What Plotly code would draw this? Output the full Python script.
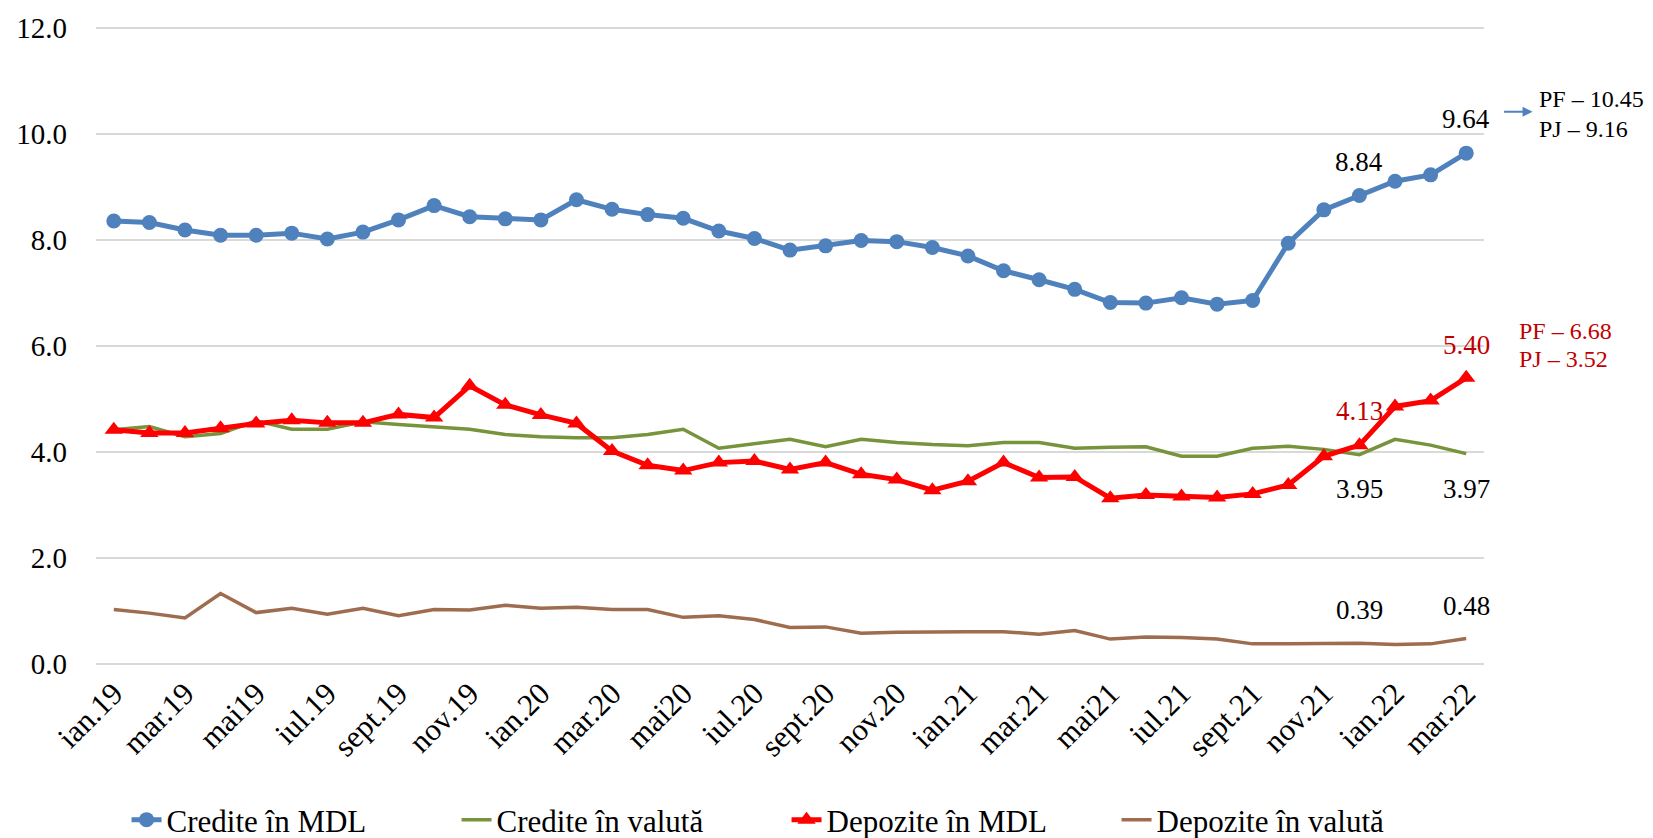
import plotly.graph_objects as go

months = [
    "ian.19", "feb.19", "mar.19", "apr.19", "mai19", "iun.19", "iul.19", "aug.19",
    "sept.19", "oct.19", "nov.19", "dec.19",
    "ian.20", "feb.20", "mar.20", "apr.20", "mai20", "iun.20", "iul.20", "aug.20",
    "sept.20", "oct.20", "nov.20", "dec.20",
    "ian.21", "feb.21", "mar.21", "apr.21", "mai21", "iun.21", "iul.21", "aug.21",
    "sept.21", "oct.21", "nov.21", "dec.21",
    "ian.22", "feb.22", "mar.22",
]

credite_mdl = [8.36, 8.33, 8.19, 8.09, 8.09, 8.13, 8.02, 8.15, 8.38, 8.65, 8.44, 8.40,
               8.38, 8.76, 8.58, 8.48, 8.41, 8.17, 8.03, 7.81, 7.89, 7.99, 7.97, 7.86,
               7.70, 7.42, 7.25, 7.07, 6.82, 6.81, 6.91, 6.79, 6.86, 7.94, 8.57, 8.84,
               9.11, 9.23, 9.64]
credite_valuta = [4.42, 4.48, 4.29, 4.35, 4.59, 4.43, 4.43, 4.57, 4.52, 4.48, 4.43, 4.33,
                  4.29, 4.27, 4.27, 4.33, 4.43, 4.07, 4.16, 4.24, 4.10, 4.24, 4.18, 4.14,
                  4.12, 4.18, 4.18, 4.07, 4.09, 4.10, 3.92, 3.92, 4.07, 4.11, 4.05, 3.95,
                  4.24, 4.13, 3.97]
depozite_mdl = [4.42, 4.36, 4.36, 4.45, 4.54, 4.60, 4.55, 4.55, 4.71, 4.65, 5.25, 4.89,
                4.70, 4.54, 4.02, 3.75, 3.65, 3.80, 3.83, 3.67, 3.80, 3.58, 3.48, 3.28,
                3.45, 3.80, 3.52, 3.53, 3.13, 3.19, 3.16, 3.14, 3.21, 3.38, 3.92, 4.13,
                4.86, 4.97, 5.40]
depozite_valuta = [1.03, 0.96, 0.87, 1.33, 0.97, 1.05, 0.94, 1.05, 0.91, 1.03, 1.02, 1.11,
                   1.05, 1.07, 1.03, 1.03, 0.88, 0.91, 0.84, 0.69, 0.70, 0.58, 0.60, 0.61,
                   0.61, 0.61, 0.56, 0.63, 0.47, 0.51, 0.50, 0.47, 0.38, 0.38, 0.39, 0.39,
                   0.37, 0.38, 0.48]

tick_months = months[::2]

FONT = "Liberation Serif, Times New Roman, serif"
BLUE = "#4F81BD"
GREEN = "#77933C"
RED = "#FF0000"
BROWN = "#9E6C4E"
DARK_RED = "#C00000"

fig = go.Figure()
fig.add_trace(go.Scatter(
    x=months, y=credite_mdl, name="Credite în MDL", mode="lines+markers",
    line=dict(color=BLUE, width=5), marker=dict(symbol="circle", size=15, color=BLUE)
))
fig.add_trace(go.Scatter(
    x=months, y=credite_valuta, name="Credite în valută", mode="lines",
    line=dict(color=GREEN, width=3.5)
))
fig.add_trace(go.Scatter(
    x=months, y=depozite_mdl, name="Depozite în MDL", mode="lines+markers",
    line=dict(color=RED, width=5), marker=dict(symbol="triangle-up", size=16, color=RED)
))
fig.add_trace(go.Scatter(
    x=months, y=depozite_valuta, name="Depozite în valută", mode="lines",
    line=dict(color=BROWN, width=3.5)
))

# data labels for dec.21 and mar.22
labels = [
    (credite_mdl, 35, 34, "black"),
    (credite_mdl, 38, 34, "black"),
    (depozite_mdl, 35, 34, DARK_RED),
    (depozite_mdl, 38, 33, DARK_RED),
    (credite_valuta, 35, -34, "black"),
    (credite_valuta, 38, -35, "black"),
    (depozite_valuta, 35, 33, "black"),
    (depozite_valuta, 38, 33, "black"),
]
for series, idx, shift, color in labels:
    fig.add_annotation(
        x=months[idx], y=series[idx], text=f"{series[idx]:.2f}", showarrow=False,
        yshift=shift, font=dict(family=FONT, size=27, color=color)
    )

# side notes
fig.add_annotation(
    x=1.035, y=10.42, xref="paper", yref="y", ax=-30, ay=0, text="",
    showarrow=True, arrowhead=2, arrowsize=1, arrowwidth=2, arrowcolor=BLUE
)
side_notes = [
    ("PF – 10.45", 10.66, "black", 1.038),
    ("PJ – 9.16", 10.10, "black", 1.038),
    ("PF – 6.68", 6.28, DARK_RED, 1.024),
    ("PJ – 3.52", 5.76, DARK_RED, 1.024),
]
for txt, yv, color, xp in side_notes:
    fig.add_annotation(
        x=xp, y=yv, xref="paper", yref="y", text=txt, showarrow=False,
        xanchor="left", font=dict(family=FONT, size=24, color=color)
    )

# the page body adds an 8px offset, so the figure is 8px smaller
fig.update_layout(
    width=1645, height=830,
    paper_bgcolor="white", plot_bgcolor="white",
    font=dict(family=FONT, size=28, color="black"),
    margin=dict(l=88, r=169, t=19, b=174),
    showlegend=True,
    legend=dict(
        orientation="h", x=0.022, xanchor="left",
        yref="container", y=0.0217, yanchor="middle",
        font=dict(family=FONT, size=31), entrywidth=285, bgcolor="rgba(0,0,0,0)"
    ),
    xaxis=dict(
        type="category", categoryorder="array", categoryarray=months,
        range=[-0.5, 38.5], tickvals=tick_months, ticktext=tick_months,
        tickangle=-45, showgrid=False, showline=False, zeroline=False,
        ticks="", ticklabelstandoff=4, tickfont=dict(size=31), automargin=False
    ),
    yaxis=dict(
        range=[0, 12.02], dtick=2, tickformat=".1f", showgrid=True,
        gridcolor="#D9D9D9", gridwidth=1.5, zeroline=True, zerolinecolor="#D9D9D9",
        zerolinewidth=1.5, showline=False, ticks="", ticklabelstandoff=28,
        tickfont=dict(size=29), automargin=False
    ),
)

fig.write_html("out.html")
